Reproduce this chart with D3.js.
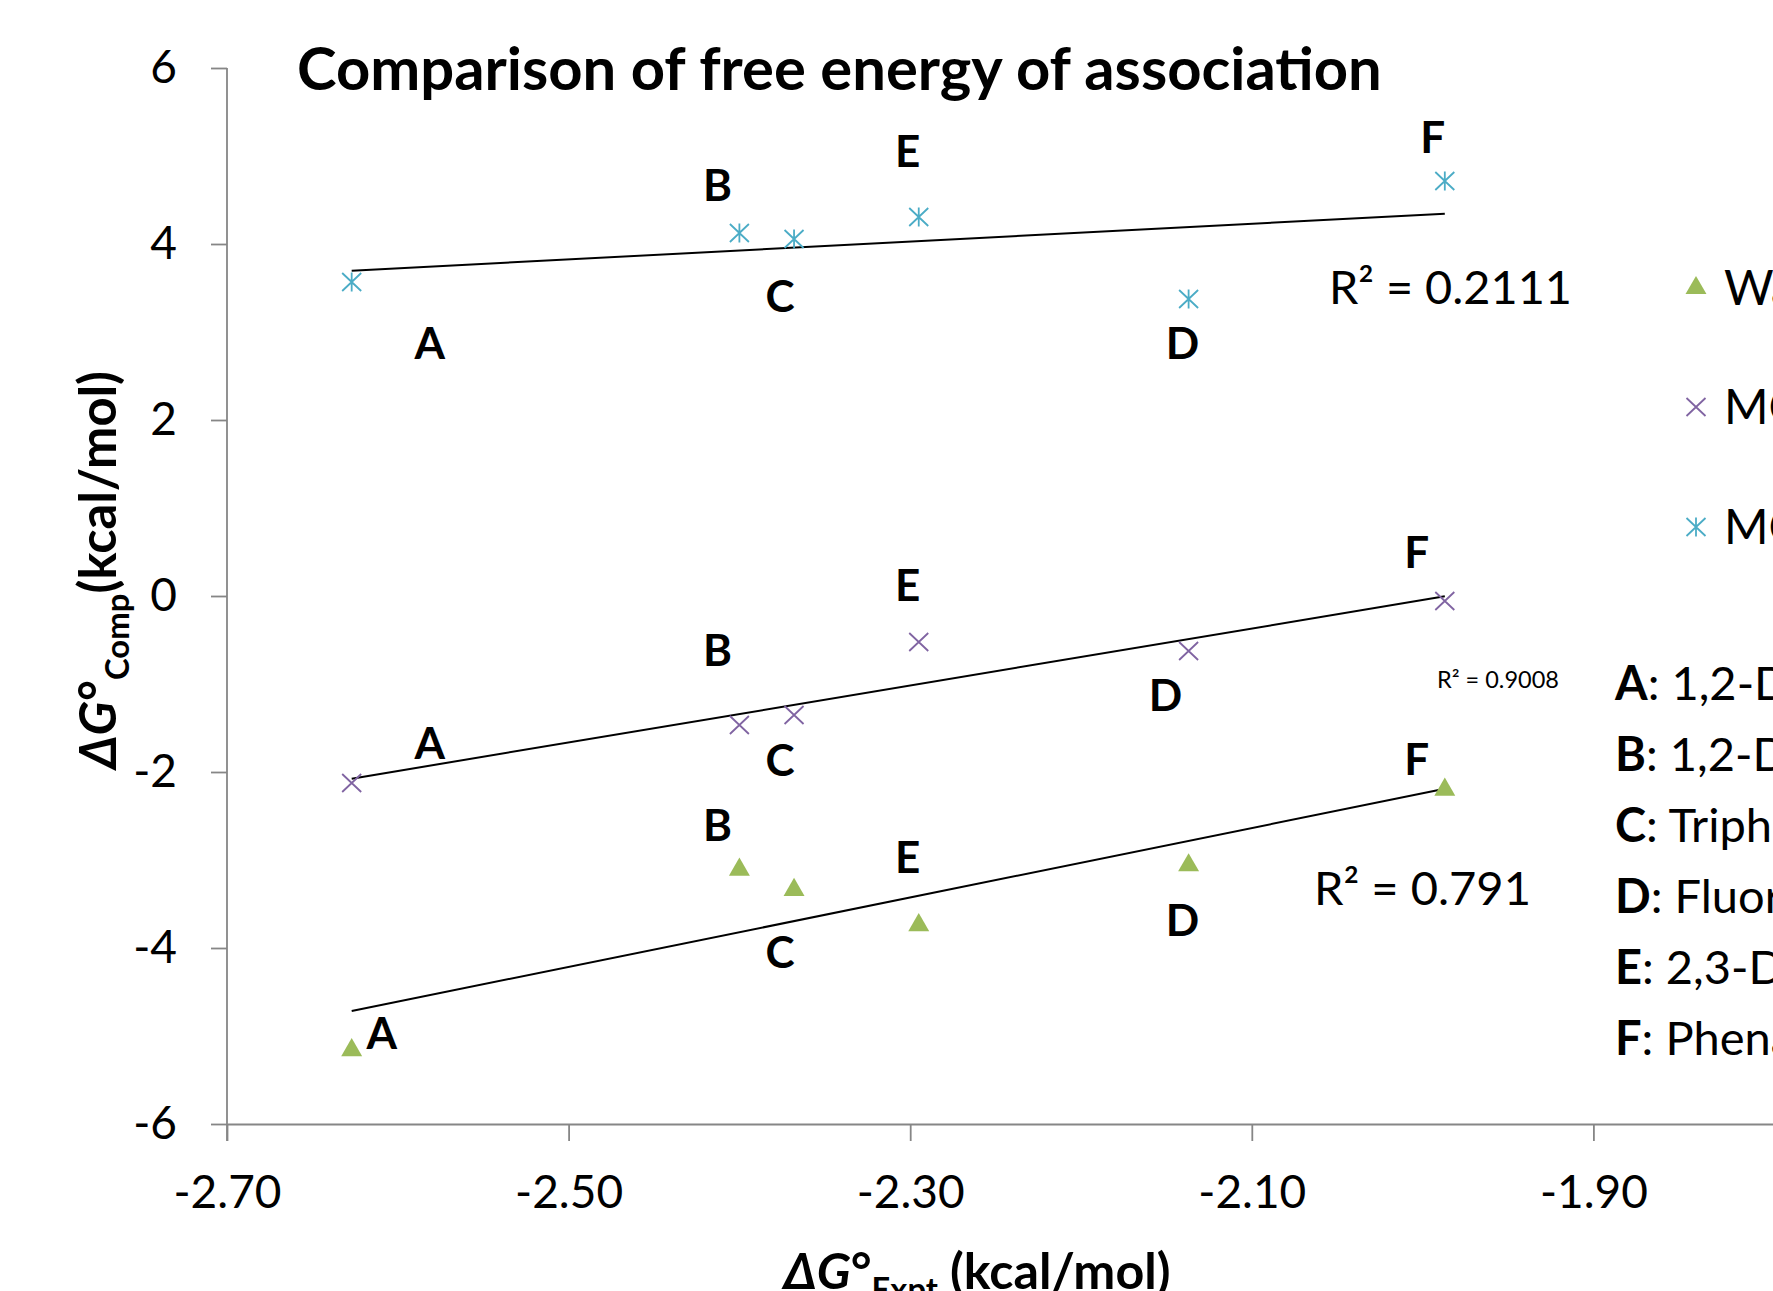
<!DOCTYPE html>
<html><head><meta charset="utf-8">
<script src="https://cdn.jsdelivr.net/npm/d3@7"></script>
<style>
body{margin:0;background:#fff}
svg{display:block}
text{font-family:Lato,"Open Sans","DejaVu Sans",sans-serif;fill:#000}
</style>
</head><body>
<svg id="chart" width="1773" height="1291"></svg>
<script>
// ---------------- data ----------------
const compounds = ["A", "B", "C", "D", "E", "F"];
const xExpt = [-2.627, -2.400, -2.368, -2.137, -2.295, -1.987];
const yWater = [-5.16, -3.11, -3.34, -3.06, -3.74, -2.20];
const yMC1 = [-2.125, -1.466, -1.352, -0.625, -0.523, -0.057];
const yMC2 = [3.568, 4.125, 4.057, 3.375, 4.307, 4.716];
const seriesNames = ["Water", "MC (1)", "MC (2)"];
const r2Labels = ["R² = 0.791", "R² = 0.9008", "R² = 0.2111"];
const compoundNames = ["1,2-Dichlorobenzene", "1,2-Dimethylbenzene", "Triphenylene",
                       "Fluoranthene", "2,3-Dimethylnaphthalene", "Phenanthrene"];
const xTicks = [-2.70, -2.50, -2.30, -2.10, -1.90];
const yTicks = [-6, -4, -2, 0, 2, 4, 6];
const titleText = "Comparison of free energy of association";

// ---------------- layout / style ----------------
const colors = ["#9BBB59", "#8064A2", "#4BACC6"];
const markerTypes = ["triangle", "x", "star"];
const ySeries = [yWater, yMC1, yMC2];
// point-label pixel offsets (per series, per compound A..F)
const labelOffsets = [
  [[30, -17], [-22, -45], [-14, 62], [-6, 55], [-11, -68], [-28, -30]],
  [[78, -40], [-22, -75], [-14, 45], [-23, 44], [-11, -57], [-28, -49]],
  [[78, 61], [-22, -48], [-14, 57], [-6, 44], [-11, -66], [-12, -44]]
];
const r2Pos = [[1314, 905, 217, 46], [1437, 688, 122, 22], [1329, 304, 243, 46]];
const legendY = [288, 407, 527];

const svg = d3.select("#chart");
const x = d3.scaleLinear().domain([-2.7, -1.78]).range([227, 227 + 0.92 * 1708]);
const y = d3.scaleLinear().domain([-6, 6]).range([1124, 68]);
const axisColor = "#868686";

function fit(sel, w) {
  const cur = sel.node().getComputedTextLength();
  const fs = parseFloat(sel.attr("font-size"));
  sel.attr("font-size", fs * w / cur);
}

// axes
const gx = svg.append("g").attr("transform", `translate(0,${y(-6)})`)
  .call(d3.axisBottom(x).tickValues(xTicks).tickSize(17).tickSizeOuter(0).tickPadding(34)
    .tickFormat(d => d.toFixed(2)));
const gy = svg.append("g").attr("transform", `translate(${x(-2.7)},0)`)
  .call(d3.axisLeft(y).tickValues(yTicks).tickSize(16).tickSizeOuter(0).tickPadding(34)
    .tickFormat(d => String(d)));
[gx, gy].forEach(g => {
  g.select(".domain").attr("stroke", axisColor).attr("stroke-width", 1.8);
  g.selectAll(".tick line").attr("stroke", axisColor).attr("stroke-width", 1.8);
  g.selectAll(".tick text").attr("font-size", 46).attr("font-family", "Lato").attr("fill", "#000");
});
// x-axis tick at -2.70 extends downward from y-axis
gy.select(".domain").attr("d", `M0,${y(6)}V${y(-6) + 17}`);

// title
const title = svg.append("text").attr("x", 297).attr("y", 90)
  .attr("font-size", 54).attr("font-weight", "bold").text(titleText);
fit(title, 1085);

// trend lines
ySeries.forEach((ys, i) => {
  const mx = d3.mean(xExpt), my = d3.mean(ys);
  const sxy = d3.sum(xExpt, (xv, k) => (xv - mx) * (ys[k] - my));
  const sxx = d3.sum(xExpt, xv => (xv - mx) ** 2);
  const b = sxy / sxx, a = my - b * mx;
  const [x0, x1] = d3.extent(xExpt);
  svg.append("line")
    .attr("x1", x(x0)).attr("y1", y(a + b * x0))
    .attr("x2", x(x1)).attr("y2", y(a + b * x1))
    .attr("stroke", "#000").attr("stroke-width", 2);
});

// markers
function drawMarker(g, type, color) {
  if (type === "triangle") {
    g.append("path").attr("d", d3.symbol(d3.symbolTriangle, 190)()).attr("fill", color);
  } else {
    const p = d3.path();
    p.moveTo(-9.5, -9); p.lineTo(9.5, 9);
    p.moveTo(9.5, -9); p.lineTo(-9.5, 9);
    if (type === "star") { p.moveTo(0, -9.5); p.lineTo(0, 9.5); }
    g.append("path").attr("d", p.toString()).attr("stroke", color)
      .attr("stroke-width", 1.8).attr("fill", "none");
  }
}
ySeries.forEach((ys, i) => {
  ys.forEach((v, k) => {
    const g = svg.append("g").attr("transform", `translate(${x(xExpt[k])},${y(v)})`);
    drawMarker(g, markerTypes[i], colors[i]);
    svg.append("text")
      .attr("x", x(xExpt[k]) + labelOffsets[i][k][0])
      .attr("y", y(v) + labelOffsets[i][k][1])
      .attr("dy", "0.36em").attr("text-anchor", "middle")
      .attr("font-size", 44).attr("font-weight", "bold")
      .text(compounds[k]);
  });
});

// R² labels
r2Labels.forEach((t, i) => {
  const [px, py, w, fs] = r2Pos[i];
  const tx = svg.append("text").attr("x", px).attr("y", py).attr("font-size", fs).text(t);
  fit(tx, w);
});

// legend (clipped at right edge like the reference)
seriesNames.forEach((n, i) => {
  const g = svg.append("g").attr("transform", `translate(1696,${legendY[i]})`);
  drawMarker(g, markerTypes[i], colors[i]);
  svg.append("text").attr("x", 1724).attr("y", legendY[i] + 17)
    .attr("font-size", 48).text(n);
});

// compound key
compounds.forEach((c, k) => {
  const t = svg.append("text").attr("x", 1615).attr("y", 700 + k * 71).attr("font-size", 47);
  t.append("tspan").attr("font-weight", "bold").text(c);
  t.append("tspan").text(": " + compoundNames[k]);
});

// y-axis title
const yt = svg.append("text").attr("transform", "translate(116,570) rotate(-90)")
  .attr("text-anchor", "middle").attr("font-size", 56).attr("font-weight", "bold");
yt.append("tspan").attr("font-style", "italic").text("ΔG");
yt.append("tspan").text("°");
yt.append("tspan").attr("font-size", "0.65em").attr("dy", "0.38em").text("Comp");
yt.append("tspan").attr("dy", "-0.247em").text("(kcal/mol)");
fit(yt, 398);

// x-axis title
const xt = svg.append("text").attr("x", 977).attr("y", 1289)
  .attr("text-anchor", "middle").attr("font-size", 52).attr("font-weight", "bold");
xt.append("tspan").attr("font-style", "italic").text("ΔG");
xt.append("tspan").text("°");
xt.append("tspan").attr("font-size", "0.65em").attr("dy", "0.38em").text("Expt");
xt.append("tspan").attr("dy", "-0.247em").text(" (kcal/mol)");
fit(xt, 387);
</script>
</body></html>
